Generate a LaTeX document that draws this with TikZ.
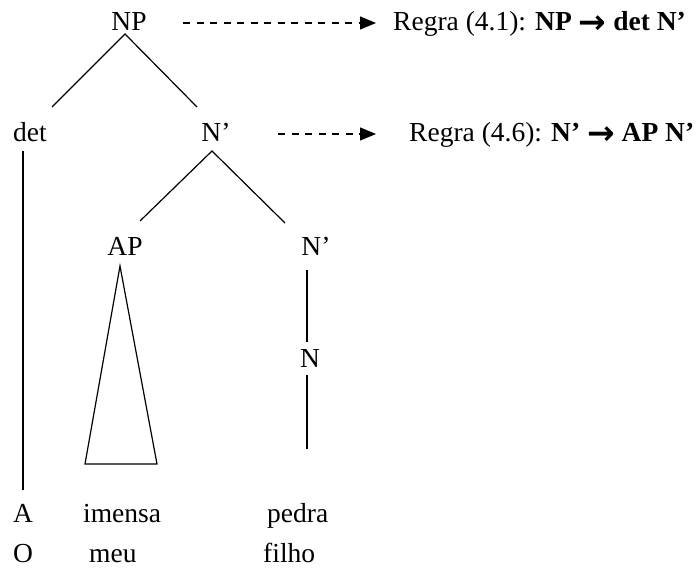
\documentclass[tikz,border=0pt]{standalone}
\usepackage{fontspec}
\setmainfont{Liberation Serif}
\newfontfamily\symfont{DejaVu Sans}
\usetikzlibrary{arrows.meta}
\newcommand{\bigarr}{\raisebox{-3pt}{\symfont\bfseries\fontsize{33}{33}\selectfont →}}
\begin{document}
\begin{tikzpicture}[x=1pt,y=-1pt,
  lbl/.style={inner sep=0pt, anchor=base, font=\fontsize{27.5}{33}\selectfont},
  lblw/.style={lbl, anchor=base west},
  branch/.style={line width=1.2pt, line join=miter},
  rulearrow/.style={line width=1.2pt, dash pattern=on 7pt off 6.5pt, -{Triangle[length=16pt,width=13pt]}}]
\useasboundingbox (0,0) rectangle (700,569);
% tree labels
\node[lbl] (NP) at (129,31) {NP};
\node[lblw] (det) at (13,142) {det};
\node[lbl] (Nb1) at (216,142) {N’};
\node[lbl] (AP) at (125,255) {AP};
\node[lbl] (Nb2) at (316,255) {N’};
\node[lbl] (N) at (310,367) {N};
% words
\node[lblw] (wA) at (13,522) {A};
\node[lblw] (wimensa) at (83,522) {imensa};
\node[lblw] (wpedra) at (267,522) {pedra};
\node[lblw] (wO) at (13,562) {O};
\node[lblw] (wmeu) at (89,562) {meu};
\node[lblw] (wfilho) at (263,562) {filho};
% rules
\node[lblw] (rule1) at (393,31) {Regra (4.1): \textbf{NP \bigarr{} det N’}};
\node[lblw] (rule2) at (409,142) {Regra (4.6): \textbf{N’ \bigarr{} AP N’}};
% branch points
\coordinate (npB) at (125,34);
\coordinate (detT) at (52,107);
\coordinate (nb1T) at (197,107);
\coordinate (nb1B) at (212,151);
\coordinate (apT) at (140,221);
\coordinate (nb2T) at (285,223);
\coordinate (detB) at (23,151);
\coordinate (wAT) at (23,490);
\coordinate (triTop) at (120,266);
\coordinate (triL) at (85,464);
\coordinate (triR) at (157,464);
\coordinate (nb2B) at (307,270);
\coordinate (nT) at (307,342);
\coordinate (nB) at (307,375);
\coordinate (nEnd) at (307,449);
% arrows
\coordinate (a1s) at (183,23);
\coordinate (a1e) at (376,23);
\coordinate (a2s) at (278,134);
\coordinate (a2e) at (376,134);
% drawing
\draw[branch] (detT) -- (npB) -- (nb1T);
\draw[branch] (apT) -- (nb1B) -- (nb2T);
\draw[branch] (detB) -- (wAT);
\draw[branch] (triTop) -- (triL) -- (triR) -- cycle;
\draw[branch] (nb2B) -- (nT);
\draw[branch] (nB) -- (nEnd);
\draw[rulearrow] (a1s) -- (a1e);
\draw[rulearrow] (a2s) -- (a2e);
\end{tikzpicture}
\end{document}
